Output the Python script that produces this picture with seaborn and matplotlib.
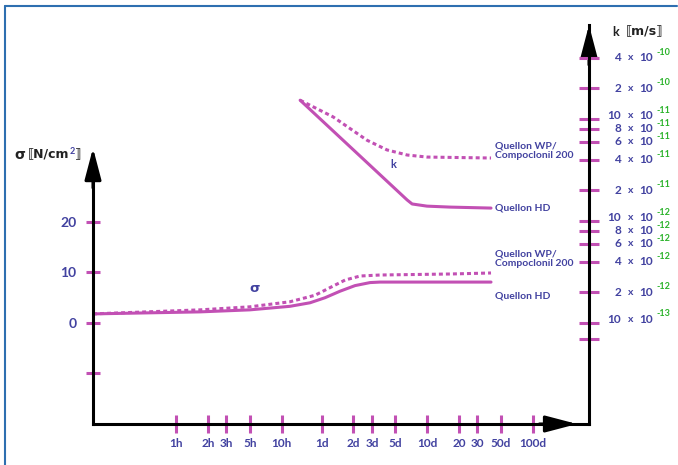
import matplotlib.pyplot as plt
import matplotlib.transforms as mtransforms
from matplotlib.ticker import NullLocator
import seaborn as sns

sns.set_theme(style="white")
plt.rcParams['font.family'] = ['Lato', 'DejaVu Sans']
plt.rcParams['font.weight'] = 'bold'

MAGENTA = '#c250b4'
BLUE = '#4242a0'
GREEN = '#2bb32b'

# time axis (hours, log)
x_ticks_h = [1, 2, 3, 5, 10, 24, 48, 72, 120, 240, 480, 720, 1200, 2400]
x_tick_labels = ['1h', '2h', '3h', '5h', '10h', '1d', '2d', '3d', '5d', '10d', '20', '30', '50d', '100d']

# left axis: sigma [N/cm2]
sigma_ticks = [-10, 0, 10, 20]
sigma_tick_labels = ['', '0', '10', '20']

# right axis: k [m/s]
k_ticks = [4e-10, 2e-10, 1e-10, 8e-11, 6e-11, 4e-11, 2e-11,
           1e-11, 8e-12, 6e-12, 4e-12, 2e-12, 1e-12, 7e-13]
k_mantissa = ['4', '2', '10', '8', '6', '4', '2', '10', '8', '6', '4', '2', '10', '']
k_exponent = ['-10', '-10', '-11', '-11', '-11', '-11', '-11',
              '-12', '-12', '-12', '-12', '-12', '-13', '']

# sigma curves
sigma_hd_t = [0.163, 1.69, 5.0, 12.0, 18.6, 25.8, 35.9, 49.7, 69.0, 85.8, 968]
sigma_hd = [1.8, 2.2, 2.6, 3.3, 4.0, 5.0, 6.3, 7.4, 8.0, 8.1, 8.1]
sigma_wp_t = [0.163, 1.69, 5.0, 12.0, 20.8, 28.8, 40.0, 55.5, 85.8, 395, 968]
sigma_wp = [1.8, 2.6, 3.2, 4.2, 5.5, 7.0, 8.5, 9.3, 9.5, 9.7, 9.9]

# k curves
k_hd_t = [15.0, 155, 173, 239, 395, 968]
k_hd = [1.53e-10, 1.61e-11, 1.47e-11, 1.40e-11, 1.37e-11, 1.34e-11]
k_wp_t = [15.0, 30.8, 64.6, 100, 155, 239, 968]
k_wp = [1.53e-10, 1.05e-10, 6.2e-11, 4.98e-11, 4.44e-11, 4.24e-11, 4.15e-11]

W, H = 678, 465
def fx(px):
    return px / W
def fy(py):
    return 1 - py / H

fig = plt.figure(figsize=(W / 100, H / 100), dpi=100)
ax = fig.add_axes([fx(93), fy(424), (589 - 93) / W, (424 - 25) / H])
ax.set_xscale('log')
ax.set_xlim(0.163, 8220)
ax.set_ylim(-20, 59)
ax2 = ax.twinx()
ax2.set_yscale('log')
ax2.set_ylim(1.023e-13, 8.36e-10)

dots = (0, (1.3, 1.0))
sns.lineplot(x=sigma_hd_t, y=sigma_hd, ax=ax, color=MAGENTA, linewidth=2.2)
sns.lineplot(x=sigma_wp_t, y=sigma_wp, ax=ax, color=MAGENTA, linewidth=2.2, linestyle=dots)
sns.lineplot(x=k_hd_t, y=k_hd, ax=ax2, color=MAGENTA, linewidth=2.2)
sns.lineplot(x=k_wp_t, y=k_wp, ax=ax2, color=MAGENTA, linewidth=2.2, linestyle=dots)

# axes lines
for s in ['top', 'right']:
    ax.spines[s].set_visible(False)
for s in ['top', 'left', 'bottom']:
    ax2.spines[s].set_visible(False)
for sp in [ax.spines['left'], ax.spines['bottom'], ax2.spines['right']]:
    sp.set_color('black')
    sp.set_linewidth(2.2)
ax.spines['left'].set_bounds(-20, 30)

arrow = dict(arrowstyle='-|>,head_length=1.6,head_width=0.42', lw=2.2, color='black',
             shrinkA=0, shrinkB=0)
tipL = (424 - 148) / 399
ax.annotate('', xy=(0, tipL), xytext=(0, tipL - 0.1), xycoords='axes fraction', arrowprops=arrow)
ax.annotate('', xy=(0.976, 0), xytext=(0.9, 0), xycoords='axes fraction', arrowprops=arrow)
ax.annotate('', xy=(1, 1), xytext=(1, 0.9), xycoords='axes fraction', arrowprops=arrow)

# ticks
ax.set_xticks(x_ticks_h, x_tick_labels)
ax.xaxis.set_minor_locator(NullLocator())
ax.tick_params(axis='x', bottom=True, direction='inout', length=12.5, width=2.2,
               color=MAGENTA, labelcolor=BLUE, labelsize=8.5, pad=4)
ax.set_yticks(sigma_ticks, sigma_tick_labels)
ax.tick_params(axis='y', left=True, direction='inout', length=9.5, width=2.2,
               color=MAGENTA, labelcolor=BLUE, labelsize=10, pad=7)
ax2.set_yticks(k_ticks)
ax2.set_yticklabels([])
ax2.yaxis.set_minor_locator(NullLocator())
ax2.tick_params(axis='y', right=True, left=False, direction='inout', length=14.4, width=2.2,
                color=MAGENTA)

# right tick labels with green exponents
def axf(px):
    return (px - 93) / 496
tr = ax2.get_yaxis_transform()
for val, m, e in zip(k_ticks, k_mantissa, k_exponent):
    if not m:
        continue
    # crowded "10 x 10" labels sit a little above their tick
    dy = 2.5 if m == '10' else 0
    t0 = mtransforms.offset_copy(tr, fig=fig, y=dy, units='points')
    t1 = mtransforms.offset_copy(tr, fig=fig, y=dy + 4, units='points')
    ax2.text(axf(621), val, m, transform=t0, ha='right', va='center', color=BLUE, fontsize=8.5)
    ax2.text(axf(630.5), val, 'x', transform=t0, ha='center', va='center', color=BLUE, fontsize=7.5)
    ax2.text(axf(639), val, '10', transform=t0, ha='left', va='center', color=BLUE, fontsize=8.5)
    ax2.text(axf(656), val, e, transform=t1, ha='left', va='center', color=GREEN, fontsize=6.5)

# axis titles
fig.text(fx(612), fy(32), 'k', color='#222222', fontsize=9, va='center')
fig.text(fx(626), fy(32), '\u27e6m/s\u27e7', color='#222222', fontsize=9, va='center',
         family=['DejaVu Sans'])
fig.text(fx(14), fy(155), '\u03c3', color='#222222', fontsize=10, va='center', family=['DejaVu Sans'])
fig.text(fx(28), fy(155), '\u27e6N/cm', color='#222222', fontsize=9, va='center',
         family=['DejaVu Sans'])
fig.text(fx(69.5), fy(151), '2', color=BLUE, fontsize=6.5, va='center')
fig.text(fx(75), fy(155), '\u27e7', color='#222222', fontsize=9, va='center', family=['DejaVu Sans'])

# curve labels
lab = dict(color=BLUE, fontsize=7.5, ha='left', va='center', linespacing=1.1)
fig.text(fx(495), fy(151), 'Quellon WP/\nCompoclonil 200', **lab)
fig.text(fx(495), fy(208), 'Quellon HD', **lab)
fig.text(fx(495), fy(259), 'Quellon WP/\nCompoclonil 200', **lab)
fig.text(fx(495), fy(296), 'Quellon HD', **lab)
fig.text(fx(393), fy(164), 'k', color=BLUE, fontsize=8, ha='center', va='center')
fig.text(fx(255), fy(288), '\u03c3', color=BLUE, fontsize=9.5, ha='center', va='center',
         family=['DejaVu Sans'])

# frame lines (top and left)
fig.add_artist(plt.Line2D([fx(5), fx(677)], [fy(6), fy(6)], color='#2e6fb0', lw=1.5))
fig.add_artist(plt.Line2D([fx(5), fx(5)], [fy(6), fy(465)], color='#2e6fb0', lw=1.5))

fig.savefig('out.png', dpi=100)
